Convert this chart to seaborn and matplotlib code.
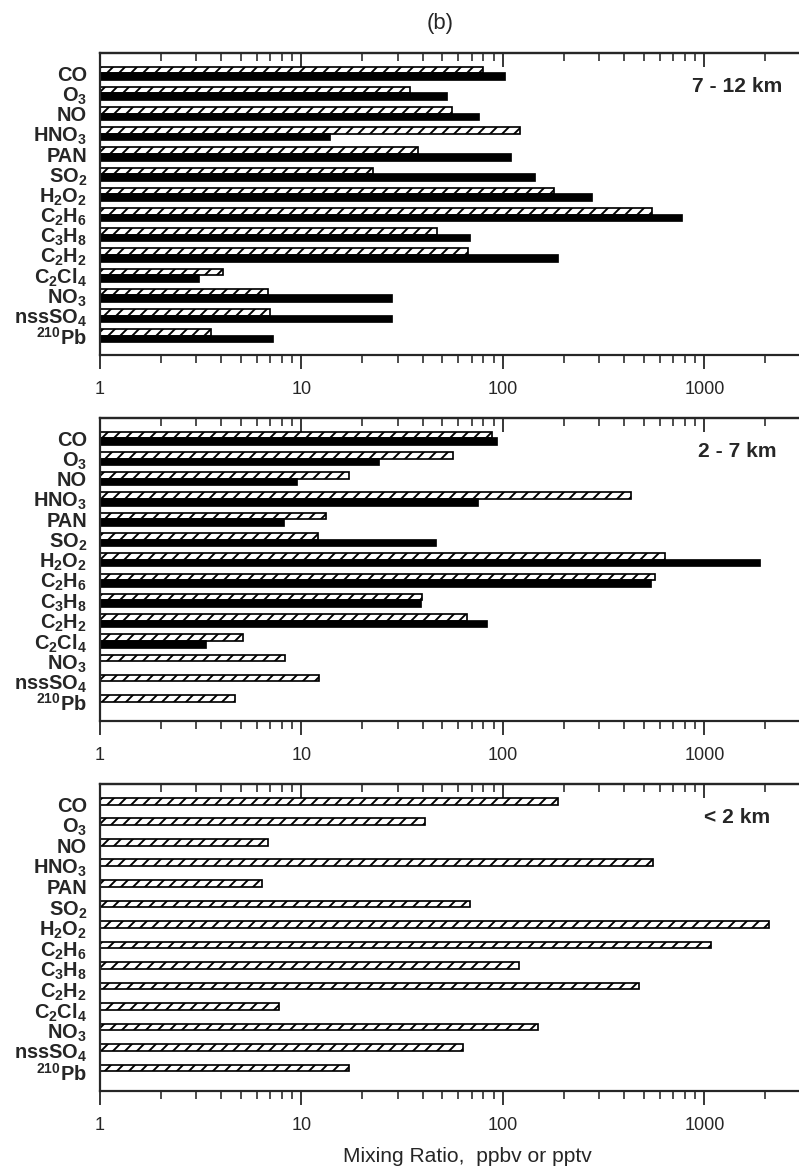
import numpy as np
import pandas as pd
import seaborn as sns
import matplotlib.pyplot as plt

# Species on the y axis (same for every panel)
species = ["CO", "O$_3$", "NO", "HNO$_3$", "PAN", "SO$_2$", "H$_2$O$_2$",
           "C$_2$H$_6$", "C$_3$H$_8$", "C$_2$H$_2$", "C$_2$Cl$_4$", "NO$_3$",
           "nssSO$_4$", "$^{210}$Pb"]

# 7 - 12 km
upper_hatched = [80, 34.5, 55.6, 121, 37.7, 22.7, 179, 547, 46.9, 67, 4.1, 6.8, 7.0, 3.55]
upper_solid = [103, 53, 76, 13.8, 110, 144, 277, 771, 69, 187, 3.1, 28, 28.2, 7.2]

# 2 - 7 km
middle_hatched = [88, 56.5, 17.2, 430, 13.2, 12.1, 635, 568, 39.8, 66.5, 5.1, 8.3, 12.2, 4.7]
middle_solid = [93, 24.3, 9.5, 75, 8.2, 46.7, 1885, 545, 39, 83, 3.35, np.nan, np.nan, np.nan]

# < 2 km
lower_hatched = [187, 41.2, 6.8, 557, 6.4, 68.8, 2100, 1077, 120, 475, 7.7, 150, 63.5, 17.3]
lower_solid = [np.nan] * 14

tick_values = [1, 10, 100, 1000]
tick_labels = ["1", "10", "100", "1000"]

sns.set_style("ticks")
plt.rcParams["font.family"] = ["Liberation Sans", "DejaVu Sans"]
plt.rcParams["mathtext.fontset"] = "custom"
plt.rcParams["mathtext.rm"] = "Liberation Sans:bold"
plt.rcParams["mathtext.bf"] = "Liberation Sans:bold"
plt.rcParams["mathtext.default"] = "bf"
plt.rcParams["hatch.linewidth"] = 1.9
plt.rcParams["hatch.color"] = "black"

W, H = 799, 1176
# dpi 72 so that 1 pt == 1 px
fig = plt.figure(figsize=(W / 72, H / 72), dpi=72)

panels = [
    ("7 - 12 km", upper_hatched, upper_solid, 53, 355),
    ("2 - 7 km", middle_hatched, middle_solid, 418, 721),
    ("< 2 km", lower_hatched, lower_solid, 784, 1091),
]

for name, hv, sv, top, bot in panels:
    ax = fig.add_axes([100 / W, 1 - bot / H, 1 - 100 / W, (bot - top) / H])
    df = pd.DataFrame({
        "species": species * 2,
        "series": ["hatched"] * len(species) + ["solid"] * len(species),
        "value": list(hv) + list(sv),
    })
    sns.barplot(data=df, x="value", y="species", hue="series",
                order=species, hue_order=["hatched", "solid"],
                palette={"hatched": "white", "solid": "black"},
                width=0.65, edgecolor="black", linewidth=1.7,
                errorbar=None, legend=False, orient="h", ax=ax)
    for bar in ax.containers[0]:
        bar.set_hatch("//")
    ax.set_xscale("log")

    ax.set_xlim(1, 2950)
    ax.set_ylim(13.95, -1.0)
    ax.set_xlabel("")
    ax.set_ylabel("")
    ax.set_xticks(tick_values)
    ax.set_xticklabels(tick_labels, fontsize=18)
    ax.tick_params(axis="x", which="major", direction="out", length=14, width=1.8, pad=12)
    ax.tick_params(axis="x", which="minor", direction="out", length=8, width=1.6)
    ax.tick_params(axis="y", length=0, pad=13)
    for lab in ax.get_yticklabels():
        lab.set_fontsize(20)
        lab.set_fontweight("bold")
    for side in ["left", "top", "bottom"]:
        ax.spines[side].set_linewidth(2.2)
    ax.spines["right"].set_visible(False)

    sec = ax.secondary_xaxis("top")
    sec.set_xticks(tick_values)
    sec.set_xticklabels([])
    sec.tick_params(axis="x", which="major", direction="in", length=14, width=1.8)
    sec.tick_params(axis="x", which="minor", direction="in", length=8, width=1.6)
    sec.spines["top"].set_linewidth(2.2)

    ax.text(0.912, 0.89, name, transform=ax.transAxes, ha="center", va="center",
            fontsize=21, fontweight="bold")

fig.text(440 / W, 1 - 23 / H, "(b)", ha="center", va="center", fontsize=22)
fig.text(467 / W, 1 - 1156 / H, "Mixing Ratio,  ppbv or pptv", ha="center",
         va="center", fontsize=21)

fig.savefig("out.png", dpi=72)
